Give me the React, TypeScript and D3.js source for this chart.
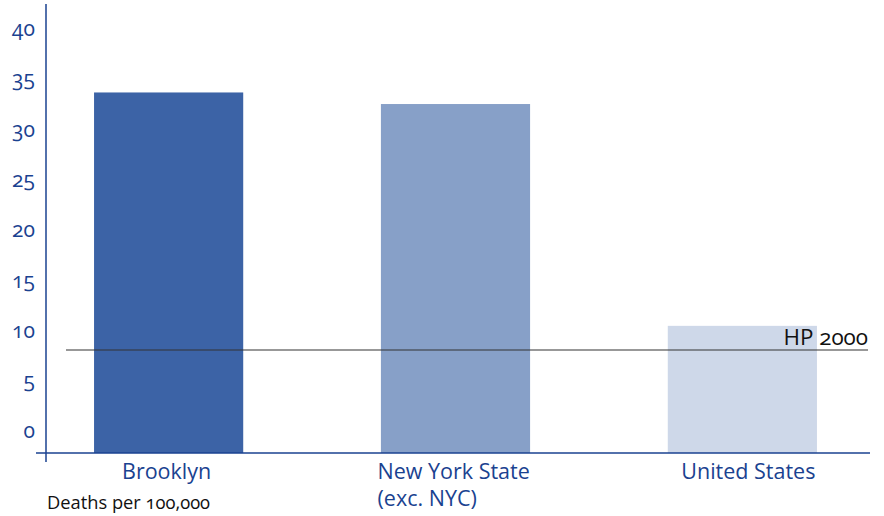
import React from "react";
import * as d3 from "d3";

const categories = ["Brooklyn", "New York State|(exc. NYC)", "United States"];
const values = [33.9, 32.75, 10.7];
const barColors = ["#3C63A6", "#87A0C8", "#CED8E9"];
const hpTarget = 8.3;
const hpLabel = "HP 2000";
const yTicks = [0, 5, 10, 15, 20, 25, 30, 35, 40];
const yCaption = "Deaths per 100,000";

const W = 884;
const H = 516;
const AXIS_X = 46;
const BASE_Y = 453;
const BLUE = "#1A4290";
const FONT = "'Open Sans', 'Noto Sans', sans-serif";
const labelShift = [-2, -78, 6];

export default function App() {
  const y = d3.scaleLinear().domain([-1.94, 40]).range([BASE_Y, 31.1]);
  const x = d3
    .scaleBand<string>()
    .domain(categories)
    .range([AXIS_X + 1, 864])
    .paddingInner(0.48)
    .paddingOuter(0.164);

  return (
    <svg
      width={W}
      height={H}
      style={{ position: "absolute", left: 0, top: 0, background: "#fff" }}
      fontFamily={FONT}
    >
      {categories.map((c, i) => (
        <rect
          key={c}
          x={x(c)}
          y={y(values[i])}
          width={x.bandwidth()}
          height={BASE_Y - y(values[i])}
          fill={barColors[i]}
        />
      ))}
      <line
        x1={66}
        x2={868}
        y1={y(hpTarget)}
        y2={y(hpTarget)}
        stroke="#333"
        strokeWidth={1.2}
      />
      <text
        x={868}
        y={y(hpTarget) - 5}
        textAnchor="end"
        fontSize={22.4}
        fill="#111"
        style={{ fontFeatureSettings: "'onum'" }}
      >
        {hpLabel}
      </text>
      <line x1={AXIS_X} x2={AXIS_X} y1={4} y2={462} stroke={BLUE} strokeWidth={1.5} />
      <line x1={36} x2={870} y1={BASE_Y} y2={BASE_Y} stroke={BLUE} strokeWidth={1.5} />
      {yTicks.map((t) => (
        <text
          key={t}
          x={35}
          y={y(t) + 5}
          textAnchor="end"
          fontSize={21}
          fill={BLUE}
          style={{ fontFeatureSettings: "'onum'" }}
        >
          {t}
        </text>
      ))}
      {categories.map((c, i) => {
        const lines = c.split("|");
        const cx = (x(c) as number) + x.bandwidth() / 2;
        if (lines.length === 1) {
          return (
            <text key={c} x={cx + labelShift[i]} y={479} textAnchor="middle" fontSize={21.5} fill={BLUE}>
              {lines[0]}
            </text>
          );
        }
        return (
          <text key={c} x={cx + labelShift[i]} y={479} textAnchor="start" fontSize={21.5} fill={BLUE}>
            {lines.map((l, j) => (
              <tspan key={j} x={cx + labelShift[i]} dy={j === 0 ? 0 : 26.5}>
                {l}
              </tspan>
            ))}
          </text>
        );
      })}
      <text
        x={47}
        y={509}
        fontSize={18.3}
        fill="#111"
        style={{ fontFeatureSettings: "'onum'" }}
      >
        {yCaption}
      </text>
    </svg>
  );
}
